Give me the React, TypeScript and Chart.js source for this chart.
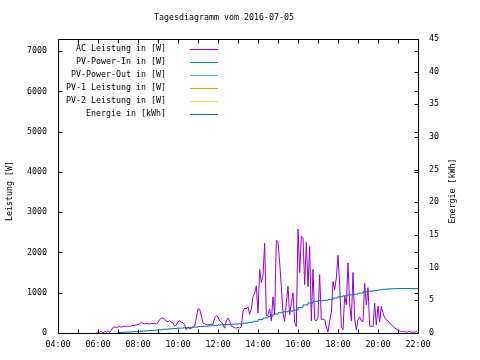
import React, { useEffect, useRef } from "react";
import { Chart, registerables } from "chart.js";

Chart.register(...registerables);

const chartTitle = "Tagesdiagramm vom 2016-07-05";
const leftAxisTitle = "Leistung [W]";
const rightAxisTitle = "Energie [kWh]";
const seriesLabels = [
  "AC Leistung in [W]",
  "PV-Power-In in [W]",
  "PV-Power-Out in [W]",
  "PV-1 Leistung in [W]",
  "PV-2 Leistung in [W]",
  "Energie in [kWh]",
];
const seriesColors = ["#9400d3", "#009e73", "#56b4e9", "#e69f00", "#f0e442", "#0072b2"];
const xTickLabels = ["04:00", "06:00", "08:00", "10:00", "12:00", "14:00", "16:00", "18:00", "20:00", "22:00"];
const yTickValues = [0, 1000, 2000, 3000, 4000, 5000, 6000, 7000];
const y2TickValues = [0, 5, 10, 15, 20, 25, 30, 35, 40, 45];

// AC power, one reading every 5 minutes starting 05:55
const acStart = "05:55";
const acStepMinutes = 5;
const acPower = [
  0,
  30, 10, 50, 0, 40, 20, 60, 10, 70, 140, 150, 140,
  150, 160, 145, 160, 170, 165, 175, 160, 180, 185, 190, 200,
  210, 230, 270, 240, 230, 235, 230, 225, 235, 230, 240, 220,
  260, 330, 375, 370, 340, 300, 280, 310, 270, 250, 170, 200,
  280, 300, 270, 250, 200, 80, 150, 100, 120, 150, 170, 375,
  600, 590, 420, 250, 230, 210, 200, 210, 220, 215, 380, 430,
  400, 300, 280, 200, 120, 300, 375, 290, 170, 150, 130, 120,
  140, 120, 150, 540, 620, 600, 650, 460, 600, 900, 1000, 1170,
  500, 1580, 1250, 1420, 2230, 420, 450, 600, 300, 900, 450, 2300,
  2250, 1750, 1160, 500, 290, 750, 1160, 450, 750, 1000, 270, 160,
  2580, 1500, 2400, 2350, 1200, 2250, 1150, 2150, 300, 1580, 330, 300,
  400, 1450, 330, 350, 330, 150, 30, 300, 500, 1280, 1075, 1370,
  1930, 1200, 150, 75, 920, 700, 1740, 750, 300, 1500, 350, 80,
  330, 400, 300, 280, 1230, 700, 1125, 170, 170, 160, 740, 200,
  670, 280, 660, 500, 380, 330, 300, 250, 200, 170, 120, 100,
  70, 50, 40, 30, 40, 20, 30, 40, 20, 30, 20, 40,
  0,
];

// Energy, one reading every 15 minutes starting 07:00
const energyStart = "07:00";
const energyStepMinutes = 15;
const energyKWh = [
  0.05, 0.08, 0.12, 0.16,
  0.22, 0.27, 0.33, 0.38,
  0.43, 0.5, 0.57, 0.64,
  0.69, 0.74, 0.79, 0.83,
  0.9, 0.98, 1.04, 1.1,
  1.17, 1.24, 1.29, 1.33,
  1.36, 1.4, 1.5, 1.62,
  1.78, 2.05, 2.3, 2.55,
  2.9, 3.1, 3.25, 3.35,
  3.5, 3.9, 4.3, 4.6,
  4.85, 4.95, 5.0, 5.1,
  5.35, 5.55, 5.7, 5.85,
  5.95, 6.1, 6.3, 6.4,
  6.5, 6.6, 6.7, 6.76,
  6.78, 6.8, 6.8, 6.8,
  6.8,
];

const FONT = "'DejaVu Sans Mono', monospace";
const FS = 8.3;

const toMin = (s: string) => {
  const [h, m] = s.split(":").map(Number);
  return h * 60 + m;
};
const fmt = (v: number) => {
  const h = Math.floor(v / 60);
  const m = v % 60;
  return `${String(h).padStart(2, "0")}:${String(m).padStart(2, "0")}`;
};

const decorPlugin = {
  id: "decor",
  afterDraw(chart: any) {
    const ctx = chart.ctx as CanvasRenderingContext2D;
    const { left, right, top, bottom } = chart.chartArea;
    const L = Math.round(left) + 0.5;
    const R = Math.round(right) + 0.5;
    const T = Math.round(top) + 0.5;
    const B = Math.round(bottom) + 0.5;
    const tl = 4;
    ctx.save();
    ctx.strokeStyle = "#000";
    ctx.lineWidth = 1;
    ctx.beginPath();
    ctx.rect(L, T, R - L, B - T);
    const xs = chart.scales.x;
    xs.ticks.forEach((t: any) => {
      const p = Math.round(xs.getPixelForValue(t.value)) + 0.5;
      ctx.moveTo(p, B);
      ctx.lineTo(p, B - tl);
      ctx.moveTo(p, T);
      ctx.lineTo(p, T + tl);
    });
    const ys = chart.scales.y;
    ys.ticks.forEach((t: any) => {
      const p = Math.round(ys.getPixelForValue(t.value)) + 0.5;
      ctx.moveTo(L, p);
      ctx.lineTo(L + tl, p);
      ctx.moveTo(R, p);
      ctx.lineTo(R - tl, p);
    });
    const y2 = chart.scales.y2;
    y2.ticks.forEach((t: any) => {
      const p = Math.round(y2.getPixelForValue(t.value)) + 0.5;
      ctx.moveTo(R, p);
      ctx.lineTo(R - tl, p);
    });
    ctx.stroke();

    ctx.fillStyle = "#000";
    ctx.font = `${FS}px ${FONT}`;
    ctx.textAlign = "center";
    ctx.textBaseline = "middle";
    ctx.fillText(chartTitle, 224, 18);

    ctx.save();
    ctx.translate(10, 191);
    ctx.rotate(-Math.PI / 2);
    ctx.fillText(leftAxisTitle, 0, 0);
    ctx.restore();
    ctx.save();
    ctx.translate(453, 191);
    ctx.rotate(-Math.PI / 2);
    ctx.fillText(rightAxisTitle, 0, 0);
    ctx.restore();

    ctx.textAlign = "right";
    seriesLabels.forEach((lab, i) => {
      const y = 49 + 13 * i;
      ctx.fillStyle = "#000";
      ctx.fillText(lab, 166, y);
      ctx.strokeStyle = seriesColors[i];
      ctx.beginPath();
      ctx.moveTo(190, y + 0.5);
      ctx.lineTo(218, y + 0.5);
      ctx.stroke();
    });
    ctx.restore();
  },
};

export default function App() {
  const ref = useRef<HTMLCanvasElement>(null);
  useEffect(() => {
    if (!ref.current) return;
    const acT0 = toMin(acStart);
    const enT0 = toMin(energyStart);
    const acData = acPower.map((v, i) => ({ x: acT0 + i * acStepMinutes, y: v }));
    const enData = energyKWh.map((v, i) => ({ x: enT0 + i * energyStepMinutes, y: v }));
    const datasets: any[] = seriesLabels.map((lab, i) => ({
      label: lab,
      data: i === 0 ? acData : i === 5 ? enData : [],
      borderColor: seriesColors[i],
      backgroundColor: seriesColors[i],
      borderWidth: 1,
      pointRadius: 0,
      fill: false,
      tension: 0,
      yAxisID: i === 5 ? "y2" : "y",
      order: i === 5 ? 0 : 1,
      stepped: i === 5 ? "after" : false,
    }));
    const tickFont = { family: FONT, size: FS };
    const chart = new Chart(ref.current, {
      type: "line",
      data: { datasets },
      plugins: [decorPlugin],
      options: {
        animation: false,
        responsive: false,
        devicePixelRatio: 1,
        layout: { padding: { top: 39, left: 0, right: 0, bottom: 0 } },
        plugins: { legend: { display: false }, title: { display: false }, tooltip: { enabled: false } },
        scales: {
          x: {
            type: "linear",
            min: 240,
            max: 1320,
            grid: { display: false, drawTicks: false },
            border: { display: false },
            ticks: {
              stepSize: 60,
              autoSkip: false,
              maxRotation: 0,
              padding: 7,
              color: "#000",
              font: tickFont,
              callback: (v: any) => {
                const s = fmt(Number(v));
                return xTickLabels.includes(s) ? s : "";
              },
            },
            afterFit: (s: any) => {
              s.height = 27;
            },
          },
          y: {
            type: "linear",
            position: "left",
            min: 0,
            max: 7300,
            grid: { display: false, drawTicks: false },
            border: { display: false },
            afterBuildTicks: (s: any) => {
              s.ticks = yTickValues.map((v) => ({ value: v }));
            },
            ticks: { padding: 11, color: "#000", font: tickFont, callback: (v: any) => String(v) },
            afterFit: (s: any) => {
              s.width = 58;
            },
          },
          y2: {
            type: "linear",
            position: "right",
            min: 0,
            max: 45,
            grid: { display: false, drawTicks: false },
            border: { display: false },
            afterBuildTicks: (s: any) => {
              s.ticks = y2TickValues.map((v) => ({ value: v }));
            },
            ticks: { padding: 11, color: "#000", font: tickFont, callback: (v: any) => String(v) },
            afterFit: (s: any) => {
              s.width = 62;
            },
          },
        },
      } as any,
    });
    return () => chart.destroy();
  }, []);
  return (
    <div style={{ position: "fixed", left: 0, top: 0, width: 480, height: 360, background: "#fff" }}>
      <canvas ref={ref} width={480} height={360} />
    </div>
  );
}
